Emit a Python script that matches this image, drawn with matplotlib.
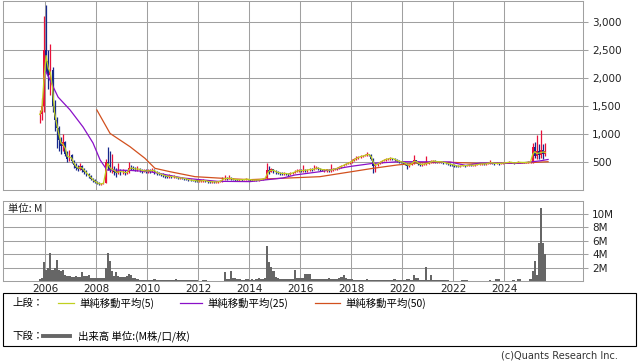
import numpy as np
import pandas as pd
import matplotlib
matplotlib.use("Agg")
import matplotlib.pyplot as plt
from matplotlib.lines import Line2D
from matplotlib.patches import Rectangle

plt.rcParams['font.family'] = ['DejaVu Sans', 'Noto Sans CJK JP']

# --- Monthly candles, Oct 2005 - Aug 2025 ---
months = pd.period_range('2005-10', '2025-08', freq='M')

close_px = [
    1350, 1500, 2500,
    2300, 2050, 2150, 1500, 1250, 1100, 900, 780, 850, 640, 560, 620,
    520, 450, 400, 380, 420, 360, 330, 280, 250, 200, 170, 140,
    120, 105, 110, 130, 500, 450, 350, 380, 330, 300, 340, 320,
    330, 300, 320, 400, 390, 380, 370, 380, 360, 340, 350, 330,
    350, 340, 360, 330, 300, 290, 280, 260, 250, 240, 250, 230,
    240, 230, 210, 220, 210, 200, 195, 180, 175, 170, 165, 160,
    160, 165, 170, 160, 150, 145, 150, 140, 145, 150, 160, 200,
    210, 200, 220, 200, 190, 185, 180, 185, 180, 190, 195, 190,
    180, 175, 180, 175, 180, 190, 200, 210, 350, 330, 370, 340,
    320, 310, 300, 290, 300, 290, 280, 300, 310, 330, 340, 350,
    340, 360, 350, 360, 370, 360, 380, 400, 380, 370, 360, 360,
    360, 350, 360, 370, 380, 390, 410, 430, 450, 470, 480, 500,
    520, 560, 570, 590, 600, 610, 620, 640, 630, 560, 430, 450,
    470, 500, 520, 540, 550, 560, 570, 560, 540, 520, 510, 500,
    490, 470, 430, 450, 480, 530, 500, 470, 450, 460, 470, 470,
    490, 510, 520, 510, 500, 510, 500, 490, 480, 470, 460, 450,
    440, 430, 420, 430, 440, 430, 440, 450, 440, 440, 450, 460,
    460, 470, 460, 470, 480, 490, 480, 470, 480, 470, 480, 480,
    490, 490, 500, 490, 480, 490, 500, 490, 495, 490, 495, 500,
    500, 770, 600, 700, 620, 720, 640, 700,
]
high_px = [
    1420, 1650, 3100,
    3300, 2500, 2600, 2200, 1600, 1300, 1150, 950, 1000, 880, 700, 720,
    650, 540, 480, 450, 480, 440, 400, 350, 300, 270, 220, 190,
    160, 140, 130, 150, 560, 770, 700, 650, 420, 400, 480, 380,
    380, 360, 350, 500, 450, 420, 410, 420, 400, 380, 380, 370,
    380, 370, 390, 380, 340, 320, 310, 300, 280, 270, 280, 270,
    260, 250, 240, 240, 230, 220, 210, 200, 190, 185, 180, 175,
    175, 180, 190, 180, 170, 160, 165, 160, 160, 165, 175, 230,
    270, 230, 260, 230, 210, 200, 195, 200, 195, 205, 210, 205,
    200, 190, 195, 190, 195, 205, 215, 225, 480, 420, 400, 380,
    350, 340, 330, 320, 320, 310, 300, 320, 330, 360, 370, 380,
    370, 450, 380, 380, 390, 390, 450, 420, 410, 390, 380, 380,
    380, 370, 460, 390, 400, 410, 430, 450, 470, 490, 500, 520,
    550, 580, 600, 610, 620, 630, 640, 680, 650, 640, 570, 480,
    490, 520, 540, 560, 570, 580, 590, 580, 570, 550, 530, 520,
    510, 500, 480, 470, 500, 630, 540, 510, 480, 480, 490, 600,
    510, 530, 540, 530, 520, 520, 520, 510, 500, 490, 480, 470,
    460, 450, 440, 445, 455, 450, 455, 465, 460, 455, 465, 475,
    475, 485, 480, 485, 495, 540, 500, 490, 495, 490, 495, 495,
    500, 505, 510, 505, 500, 500, 510, 505, 505, 505, 505, 510,
    510, 840, 860, 980, 830, 1070, 830, 840,
]
low_px = [
    1200, 1250, 1400,
    2100, 1800, 1700, 1400, 1050, 750, 700, 650, 700, 600, 500, 520,
    480, 400, 360, 340, 360, 330, 290, 250, 220, 180, 150, 120,
    100, 90, 95, 100, 120, 350, 320, 300, 260, 230, 280, 260,
    280, 270, 280, 310, 360, 350, 340, 340, 330, 310, 320, 300,
    300, 310, 320, 280, 270, 260, 250, 230, 220, 210, 220, 210,
    210, 210, 190, 195, 190, 180, 175, 165, 160, 155, 150, 145,
    140, 145, 150, 140, 130, 125, 130, 120, 125, 130, 140, 150,
    180, 180, 190, 180, 170, 165, 160, 165, 160, 170, 175, 170,
    165, 160, 165, 160, 165, 175, 185, 195, 200, 280, 320, 300,
    290, 280, 270, 260, 270, 260, 250, 270, 280, 300, 320, 330,
    320, 330, 320, 330, 340, 340, 350, 370, 360, 340, 340, 330,
    330, 320, 330, 340, 350, 360, 380, 400, 420, 440, 460, 470,
    490, 510, 540, 560, 570, 590, 600, 610, 600, 530, 300, 330,
    430, 460, 490, 510, 520, 530, 540, 540, 520, 500, 490, 480,
    460, 440, 380, 410, 440, 470, 480, 450, 430, 430, 440, 440,
    460, 480, 490, 490, 480, 480, 480, 470, 460, 440, 430, 420,
    410, 410, 405, 410, 420, 410, 420, 430, 420, 420, 430, 440,
    450, 455, 445, 455, 465, 470, 465, 455, 465, 455, 465, 470,
    475, 480, 485, 480, 470, 475, 485, 480, 480, 480, 485, 485,
    485, 490, 580, 560, 560, 580, 560, 600,
]
volume_m = [
    0.3, 0.5, 2.8,
    1.7, 2.0, 4.2, 1.7, 2.0, 3.1, 1.7, 1.5, 1.6, 0.9, 0.8, 0.8,
    0.6, 0.6, 0.8, 0.6, 0.6, 1.3, 0.8, 0.8, 0.9, 0.5, 0.5, 0.4,
    0.4, 0.4, 0.5, 0.5, 2.0, 4.2, 3.0, 1.5, 0.8, 1.3, 0.8, 0.6,
    0.6, 0.6, 0.8, 1.0, 0.9, 0.4, 0.4, 0.3, 0.2, 0.2, 0.2, 0.2,
    0.2, 0.2, 0.2, 0.35, 0.15, 0.1, 0.1, 0.1, 0.1, 0.1, 0.1, 0.1,
    0.1, 0.35, 0.1, 0.1, 0.1, 0.1, 0.1, 0.1, 0.1, 0.1, 0.1, 0.1,
    0.05, 0.05, 0.2, 0.15, 0.05, 0.05, 0.05, 0.05, 0.05, 0.05, 0.05, 0.05,
    1.3, 0.3, 0.3, 1.5, 0.5, 0.5, 0.3, 0.3, 0.2, 0.2, 0.3, 0.3,
    0.2, 0.3, 0.2, 0.3, 0.4, 0.3, 0.3, 0.5, 5.2, 2.8, 2.1, 1.5,
    0.6, 0.4, 0.3, 0.3, 0.3, 0.3, 0.3, 0.3, 0.3, 1.6, 0.4, 0.4,
    0.4, 0.4, 1.0, 1.1, 1.1, 0.3, 0.3, 0.3, 0.3, 0.3, 0.3, 0.3,
    0.3, 0.4, 0.3, 0.3, 0.3, 0.3, 0.5, 0.6, 0.9, 0.5, 0.3, 0.3,
    0.3, 0.2, 0.15, 0.15, 0.15, 0.15, 0.2, 0.3, 0.2, 0.2, 0.15, 0.15,
    0.1, 0.1, 0.1, 0.1, 0.1, 0.1, 0.1, 0.1, 0.35, 0.1, 0.1, 0.1,
    0.1, 0.1, 0.25, 0.25, 0.2, 0.9, 0.4, 0.5, 0.2, 0.2, 0.2, 2.1,
    0.2, 0.9, 0.2, 0.2, 0.1, 0.1, 0.15, 0.15, 0.1, 0.1, 0.05, 0.05,
    0.05, 0.05, 0.05, 0.05, 0.1, 0.2, 0.1, 0.05, 0.05, 0.05, 0.05, 0.05,
    0.05, 0.05, 0.05, 0.05, 0.05, 0.2, 0.05, 0.05, 0.3, 0.3, 0.05, 0.05,
    0.05, 0.05, 0.05, 0.05, 0.2, 0.05, 0.25, 0.25, 0.05, 0.05, 0.05, 0.05,
    0.3, 1.5, 3.0, 0.9, 5.7, 10.9, 5.7, 4.0,
]

# --- Moving average lines ---
ma25_year = [2006.04, 2006.51, 2006.98, 2007.49, 2007.88, 2008.16, 2008.43, 2009.33,
             2010.12, 2011.41, 2012.75, 2014.04, 2014.63, 2015.33, 2015.80, 2016.78,
             2017.96, 2018.86, 2019.92, 2021.88, 2022.50, 2023.06, 2024.63, 2025.41, 2025.73]
ma25_val = [2107, 1660, 1430, 1125, 840, 536, 357, 350,
            327, 214, 155, 150, 180, 214, 268, 327,
            420, 476, 506, 500, 440, 480, 480, 520, 545]
ma50_year = [2008.03, 2008.55, 2009.33, 2009.92, 2010.31, 2010.90, 2011.88, 2013.30,
             2014.04, 2016.78, 2018.86, 2019.80, 2020.70, 2021.88, 2023.06, 2024.63, 2025.73]
ma50_val = [1430, 1010, 774, 565, 387, 327, 238, 200,
            185, 238, 387, 446, 488, 495, 475, 480, 505]

year_ticks = [2006, 2008, 2010, 2012, 2014, 2016, 2018, 2020, 2022, 2024]
price_ticks = [500, 1000, 1500, 2000, 2500, 3000]
vol_ticks = [2, 4, 6, 8, 10]

# --- Derived ---
x = months.year + (months.month - 0.5) / 12
close = np.array(close_px, float)
open_ = np.r_[close[0], close[:-1]]
up = close >= open_
ma5 = pd.Series(close).rolling(2, min_periods=1).mean()

W, H = 638, 362
fig = plt.figure(figsize=(W / 100, H / 100), dpi=100)

def ax_rect(x0, y0, x1, y1):
    return [x0 / W, 1 - y1 / H, (x1 - x0) / W, (y1 - y0) / H]

grid_c = '#a0a0a0'
red_c, blue_c = '#e8103a', '#16288c'
c5, c25, c50 = '#c0d020', '#8a10c8', '#d2501e'

ax = fig.add_axes(ax_rect(3, 1, 583, 190))
axv = fig.add_axes(ax_rect(3, 201, 583, 281))

for a in (ax, axv):
    a.set_xlim(2004.35, 2027.1)
    a.set_xticks(year_ticks)
    a.grid(True, color=grid_c, lw=0.75)
    a.set_axisbelow(True)
    for s in a.spines.values():
        s.set_color(grid_c)
        s.set_linewidth(0.75)
    a.yaxis.tick_right()
    a.tick_params(axis='y', length=3.5, width=0.75, color=grid_c, pad=3, labelsize=7.5, labelcolor='#222222')
    a.tick_params(axis='x', length=0, pad=2, labelsize=7.5, labelcolor='#222222')

# candles
cols = np.where(up, red_c, blue_c)
ax.vlines(x, low_px, high_px, colors=cols, lw=0.9, zorder=3)
body_lo = np.minimum(open_, close)
body_h = np.maximum(np.abs(close - open_), 10)
ax.bar(x, body_h, bottom=body_lo, width=0.075, color=cols, lw=0, zorder=3)

ax.plot(ma50_year, ma50_val, color=c50, lw=0.9, zorder=4)
ax.plot(ma25_year, ma25_val, color=c25, lw=0.9, zorder=4)
ax.plot(x, ma5, color=c5, lw=0.9, zorder=4)

ax.set_ylim(0, 3375)
ax.set_yticks(price_ticks)
ax.set_yticklabels([f"{v:,}" for v in price_ticks])
ax.tick_params(axis='x', labelbottom=False)

# volume
axv.bar(x, volume_m, width=1 / 12, color='#666666', lw=0, zorder=3)
axv.set_ylim(0, 11.94)
axv.set_yticks(vol_ticks)
axv.set_yticklabels([f"{v}M" for v in vol_ticks])
axv.text(0.009, 0.9, "単位: M", transform=axv.transAxes, fontsize=7.5, va='center', ha='left',
         family=['Noto Sans CJK JP', 'DejaVu Sans'], color='#222222')

# --- legend box ---
def fx(px):
    return px / W

def fy(py):
    return 1 - py / H

jp = ['Noto Sans CJK JP', 'DejaVu Sans']
fig.patches.append(Rectangle((fx(3), fy(346)), fx(633), 53 / H, transform=fig.transFigure,
                             fill=False, edgecolor='black', lw=0.8))
fs = 7.5
fig.text(fx(12), fy(303), "上段：", fontsize=fs, va='center', family=jp)
fig.text(fx(12), fy(336), "下段：", fontsize=fs, va='center', family=jp)
legend_items = [(58, 74, c5, "単純移動平均(5)"),
                (180, 202, c25, "単純移動平均(25)"),
                (315, 340, c50, "単純移動平均(50)")]
for x0, x1, c, label in legend_items:
    fig.add_artist(Line2D([fx(x0), fx(x1)], [fy(303), fy(303)], color=c, lw=0.9,
                          transform=fig.transFigure))
    fig.text(fx(x1 + 5), fy(303), label, fontsize=fs, va='center', family=jp)
fig.add_artist(Line2D([fx(43), fx(70)], [fy(336), fy(336)], color='#666666', lw=2.8,
                      transform=fig.transFigure))
fig.text(fx(78), fy(336), "出来高 単位:(M株/口/枚)", fontsize=fs, va='center', family=jp)

fig.text(fx(618), fy(356), "(c)Quants Research Inc.", fontsize=7, ha='right', va='center',
         color='#333333')

fig.savefig("out.png", dpi=100)
